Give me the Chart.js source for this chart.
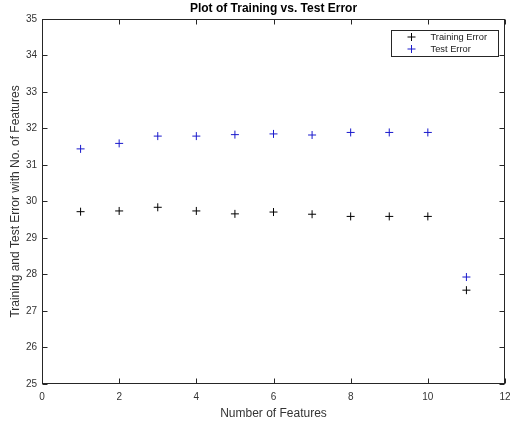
<!DOCTYPE html>
<html><head><meta charset="utf-8">
<script src="https://cdn.jsdelivr.net/npm/chart.js@4"></script>
<style>html,body{margin:0;padding:0;background:#fff}#wrap{width:510px;height:423px}</style>
</head><body><div id="wrap"><canvas id="c" width="510" height="423"></canvas></div>
<script>
const featureCounts = [1, 2, 3, 4, 5, 6, 7, 8, 9, 10, 11];
const trainingError = [29.72, 29.74, 29.84, 29.74, 29.66, 29.71, 29.65, 29.59, 29.59, 29.59, 27.57];
const testError = [31.44, 31.59, 31.79, 31.79, 31.83, 31.85, 31.82, 31.89, 31.89, 31.89, 27.93];
const xTicks = [0, 2, 4, 6, 8, 10, 12];
const yTicks = [25, 26, 27, 28, 29, 30, 31, 32, 33, 34, 35];
const seriesNames = ['Training Error', 'Test Error'];
const seriesColors = ['#000000', '#1a1acc'];

const FONT = "'Liberation Sans', Arial, Helvetica, sans-serif";
const AXIS = '#262626';

const toPoints = (xs, ys) => xs.map((x, i) => ({x: x, y: ys[i]}));

const framePlugin = {
  id: 'frame',
  afterLayout(chart) {
    // centre the title over the plot area, as in the reference
    if (chart.titleBlock) {
      chart.titleBlock.left = chart.chartArea.left;
      chart.titleBlock.right = chart.chartArea.right;
    }
  },
  afterDatasetsDraw(chart) {
    const ctx = chart.ctx, a = chart.chartArea;
    const xs = chart.scales.x, ys = chart.scales.y;
    ctx.save();
    ctx.strokeStyle = AXIS;
    ctx.lineWidth = 1;
    const L = Math.round(a.left) + 0.5, R = Math.round(a.right) - 0.5;
    const T = Math.round(a.top) + 0.5, B = Math.round(a.bottom) - 0.5;
    ctx.strokeRect(L, T, R - L, B - T);
    const tl = 5;
    ctx.beginPath();
    xTicks.forEach(v => {
      const px = Math.round(xs.getPixelForValue(v)) + 0.5;
      ctx.moveTo(px, B); ctx.lineTo(px, B - tl);
      ctx.moveTo(px, T); ctx.lineTo(px, T + tl);
    });
    yTicks.forEach(v => {
      const py = Math.round(ys.getPixelForValue(v)) + 0.5;
      ctx.moveTo(L, py); ctx.lineTo(L + tl, py);
      ctx.moveTo(R, py); ctx.lineTo(R - tl, py);
    });
    ctx.stroke();

    // legend box
    const bw = 107, bh = 26;
    const bx = Math.round(a.right) - 7 - bw + 0.5, by = Math.round(a.top) + 11 + 0.5;
    ctx.fillStyle = '#fff';
    ctx.fillRect(bx, by, bw, bh);
    ctx.strokeStyle = AXIS;
    ctx.strokeRect(bx, by, bw, bh);
    ctx.font = '9.3px ' + FONT;
    ctx.textBaseline = 'middle';
    ctx.textAlign = 'left';
    chart.data.datasets.forEach((ds, i) => {
      const cy = by + 6.5 + i * 12;
      ctx.strokeStyle = ds.borderColor;
      ctx.beginPath();
      ctx.moveTo(bx + 16, cy); ctx.lineTo(bx + 24, cy);
      ctx.moveTo(bx + 20, cy - 4); ctx.lineTo(bx + 20, cy + 4);
      ctx.stroke();
      ctx.fillStyle = '#222';
      ctx.fillText(ds.label, bx + 39, cy + 0.5);
    });
    ctx.restore();
  }
};

new Chart(document.getElementById('c'), {
  type: 'scatter',
  data: {
    datasets: [
      {label: seriesNames[0], data: toPoints(featureCounts, trainingError), borderColor: seriesColors[0], backgroundColor: seriesColors[0], pointStyle: 'cross', pointRadius: 4, pointHoverRadius: 4, borderWidth: 1},
      {label: seriesNames[1], data: toPoints(featureCounts, testError), borderColor: seriesColors[1], backgroundColor: seriesColors[1], pointStyle: 'cross', pointRadius: 4, pointHoverRadius: 4, borderWidth: 1}
    ]
  },
  options: {
    responsive: false,
    animation: false,
    devicePixelRatio: 1,
    layout: {padding: {left: 0, right: 4, top: 0, bottom: 0}},
    plugins: {
      legend: {display: false},
      tooltip: {enabled: false},
      title: {display: true, text: 'Plot of Training vs. Test Error', color: '#000', font: {family: FONT, size: 12, weight: 'bold'}, padding: {top: 1.5, bottom: 3}}
    },
    scales: {
      x: {
        type: 'linear', min: 0, max: 12,
        afterBuildTicks: s => { s.ticks = xTicks.map(v => ({value: v})); },
        afterFit: s => { s.height = 39; s.paddingLeft = 0; s.paddingRight = 0; },
        grid: {display: false, drawTicks: false}, border: {display: false},
        ticks: {color: '#333', font: {family: FONT, size: 10}, padding: 7, maxRotation: 0},
        title: {display: true, text: 'Number of Features', color: '#333', font: {family: FONT, size: 12}, padding: {top: 0, bottom: 2.5}}
      },
      y: {
        type: 'linear', min: 25, max: 35,
        afterBuildTicks: s => { s.ticks = yTicks.map(v => ({value: v})); },
        afterFit: s => { s.width = 42; s.paddingTop = 0; s.paddingBottom = 0; },
        grid: {display: false, drawTicks: false}, border: {display: false},
        ticks: {color: '#333', font: {family: FONT, size: 10}, padding: 5},
        title: {display: true, text: 'Training and Test Error with No. of Features', color: '#333', font: {family: FONT, size: 12}, padding: {top: 8, bottom: 0}}
      }
    }
  },
  plugins: [framePlugin]
});
</script>
</body></html>
